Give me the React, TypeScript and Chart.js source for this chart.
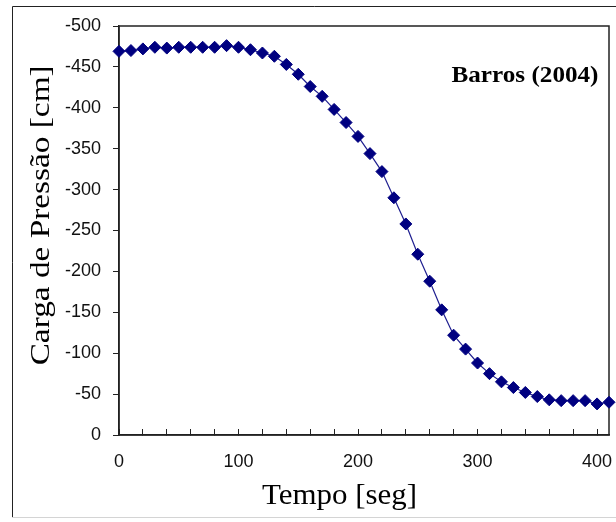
import React, { useEffect, useRef } from 'react';
import { Chart, registerables } from 'chart.js';

Chart.register(...registerables);

// ---- data ----
const timeSec = [
  0, 10, 20, 30, 40, 50, 60, 70, 80, 90,
  100, 110, 120, 130, 140, 150, 160, 170, 180, 190,
  200, 210, 220, 230, 240, 250, 260, 270, 280, 290,
  300, 310, 320, 330, 340, 350, 360, 370, 380, 390,
  400, 410,
];
const pressureHead = [
  -469, -470, -472, -474, -473, -474, -474, -474, -474, -476,
  -474, -471, -467, -463, -453, -441, -426, -414, -398, -382,
  -365, -344, -322, -290, -258, -221, -188, -153, -122, -105,
  -88, -75, -65, -58, -52, -47, -43, -42, -42, -42,
  -38, -40,
];
const xTickValues = [
  0, 20, 40, 60, 80, 100, 120, 140, 160, 180, 200,
  220, 240, 260, 280, 300, 320, 340, 360, 380, 400,
];
const xLabelValues = [0, 100, 200, 300, 400];
const yTickValues = [-500, -450, -400, -350, -300, -250, -200, -150, -100, -50, 0];
const xTitle = 'Tempo [seg]';
const yTitle = 'Carga de Pressão [cm]';
const seriesLabel = 'Barros (2004)';

const W = 616;
const H = 522;

function drawFitted(
  ctx: CanvasRenderingContext2D,
  text: string,
  font: string,
  targetWidth: number,
  x: number,
  y: number,
  rotate: boolean
) {
  ctx.save();
  ctx.font = font;
  const w = ctx.measureText(text).width;
  const sx = w > 0 ? targetWidth / w : 1;
  ctx.translate(x, y);
  if (rotate) ctx.rotate(-Math.PI / 2);
  ctx.scale(sx, 1);
  ctx.textAlign = 'center';
  ctx.textBaseline = 'alphabetic';
  ctx.fillStyle = '#000';
  ctx.fillText(text, 0, 0);
  ctx.restore();
}

const decorPlugin = {
  id: 'decor',
  beforeDraw(chart: any) {
    const ctx = chart.ctx as CanvasRenderingContext2D;
    ctx.save();
    ctx.fillStyle = '#ffffff';
    ctx.fillRect(0, 0, chart.width, chart.height);
    // outer frame
    ctx.lineWidth = 1;
    ctx.strokeStyle = '#222';
    ctx.beginPath();
    ctx.moveTo(12.5, chart.height - 4);
    ctx.lineTo(12.5, 6.5);
    ctx.lineTo(chart.width, 6.5);
    ctx.stroke();
    ctx.strokeStyle = '#d4d4d4';
    ctx.beginPath();
    ctx.moveTo(12, chart.height - 4.5);
    ctx.lineTo(chart.width, chart.height - 4.5);
    ctx.stroke();
    ctx.restore();
  },
  beforeDatasetsDraw(chart: any) {
    const ctx = chart.ctx as CanvasRenderingContext2D;
    const { left, right, top, bottom } = chart.chartArea;
    ctx.save();
    ctx.strokeStyle = '#222';
    ctx.lineWidth = 1.5;
    ctx.strokeRect(left, top, right - left, bottom - top);
    ctx.restore();
  },
  afterDraw(chart: any) {
    const ctx = chart.ctx as CanvasRenderingContext2D;
    const { left, right, top, bottom } = chart.chartArea;
    // x axis title
    drawFitted(ctx, xTitle, '30px "Liberation Serif", "Times New Roman", serif', 155,
      left + (right - left) * 0.45, bottom + 69, false);
    // y axis title
    drawFitted(ctx, yTitle, '28px "Liberation Serif", "Times New Roman", serif', 300,
      49, top + (bottom - top) * 0.463, true);
    // series label
    drawFitted(ctx, seriesLabel, 'bold 23px "Liberation Serif", "Times New Roman", serif', 147,
      right - 84, top + 56, false);
  },
};

export default function App() {
  const canvasRef = useRef<HTMLCanvasElement | null>(null);

  useEffect(() => {
    document.body.style.margin = '0';
    const canvas = canvasRef.current;
    if (!canvas) return;
    const tickFont = { family: '"Liberation Sans", Arial, sans-serif', size: 18 };
    const chart = new Chart(canvas, {
      type: 'line',
      data: {
        datasets: [
          {
            label: seriesLabel,
            data: timeSec.map((t, i) => ({ x: t, y: pressureHead[i] })),
            borderColor: '#1f1f90',
            borderWidth: 1.2,
            pointStyle: 'rectRot',
            pointRadius: 6,
            pointBackgroundColor: '#000080',
            pointBorderColor: '#000080',
            pointBorderWidth: 1,
            tension: 0,
            clip: false as any,
          },
        ],
      },
      options: {
        responsive: false,
        animation: false,
        layout: { padding: { top: 26, right: 7, left: 0, bottom: 0 } },
        plugins: {
          legend: { display: false },
          tooltip: { enabled: false },
        },
        scales: {
          x: {
            type: 'linear',
            min: 0,
            max: 410,
            afterBuildTicks: (s: any) => {
              s.ticks = xTickValues.map((v) => ({ value: v }));
            },
            afterFit: (s: any) => {
              s.height = 87;
              s.paddingLeft = 0;
              s.paddingRight = 0;
            },
            ticks: {
              autoSkip: false,
              maxRotation: 0,
              minRotation: 0,
              callback: (v: any) => (xLabelValues.includes(Number(v)) ? String(v) : ''),
              font: tickFont,
              color: '#111',
              padding: 22,
            },
            grid: {
              drawOnChartArea: false,
              drawTicks: true,
              tickLength: -6,
              color: '#222',
              lineWidth: 1,
            },
            border: { display: true, color: '#222', width: 1.5 },
          },
          y: {
            type: 'linear',
            min: -500,
            max: 0,
            reverse: true,
            afterBuildTicks: (s: any) => {
              s.ticks = yTickValues.map((v) => ({ value: v }));
            },
            afterFit: (s: any) => {
              s.width = 119;
              s.paddingTop = 0;
              s.paddingBottom = 0;
            },
            ticks: {
              callback: (v: any) => String(v),
              font: tickFont,
              color: '#111',
              padding: 12,
            },
            grid: {
              drawOnChartArea: false,
              drawTicks: true,
              tickLength: 6,
              color: '#222',
              lineWidth: 1,
            },
            border: { display: true, color: '#222', width: 1.5 },
          },
        },
      },
      plugins: [decorPlugin],
    } as any);
    return () => chart.destroy();
  }, []);

  return (
    <div style={{ width: W, height: H, position: 'relative' }}>
      <canvas ref={canvasRef} width={W} height={H} style={{ display: 'block', width: W, height: H }} />
    </div>
  );
}
